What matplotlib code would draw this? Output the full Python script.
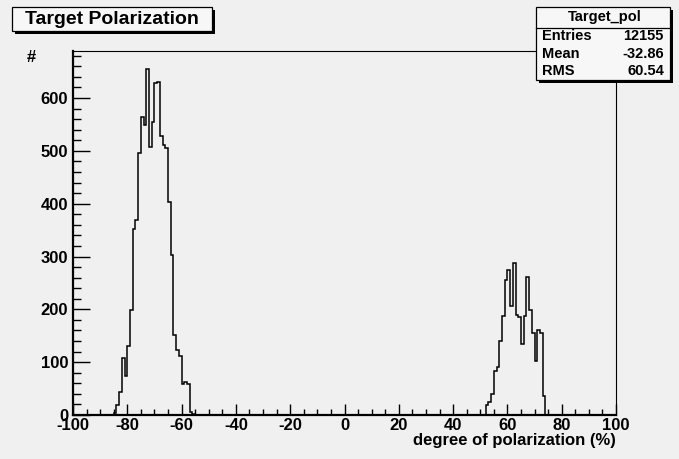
import numpy as np
import matplotlib
matplotlib.use("Agg")
import matplotlib.pyplot as plt
from matplotlib.patches import Rectangle
from matplotlib.ticker import MultipleLocator

# histogram "Target_pol": 200 bins of width 1 from -100 to 100
x_lo, x_hi = -100, 100
left_start = -85
left_counts = [4, 18, 44, 107, 73, 131, 198, 353, 369, 495, 565, 548, 655, 508, 554,
               628, 630, 528, 512, 506, 404, 302, 151, 123, 112, 59, 63, 59, 5, 1]
right_start = 52
right_counts = [18, 25, 39, 83, 91, 141, 187, 256, 275, 207, 287, 190, 185, 135, 187,
                262, 199, 155, 103, 161, 155, 36]

title = "Target Polarization"
stats_name = "Target_pol"
stats_rows = [("Entries", "12155"), ("Mean", "-32.86"), ("RMS", "60.54")]

W, H = 679, 459
bg = "#f0f0f0"
plt.rcParams['font.family'] = ['Liberation Sans', 'DejaVu Sans']
plt.rcParams['font.weight'] = 'bold'
plt.rcParams['axes.unicode_minus'] = False

edges = np.arange(x_lo, x_hi + 1)
counts = np.zeros(len(edges) - 1)
i0 = left_start - x_lo
counts[i0:i0 + len(left_counts)] = left_counts
i1 = right_start - x_lo
counts[i1:i1 + len(right_counts)] = right_counts

fig = plt.figure(figsize=(W / 100, H / 100), dpi=100, facecolor=bg)
# frame in pixels: x 73..616, y 51..415
ax = fig.add_axes([73 / W, 1 - 415 / H, (616 - 73) / W, (415 - 51) / H], facecolor=bg)
ax.stairs(counts, edges, color="black", lw=1.1)
ax.set_xlim(x_lo, x_hi)
ax.set_ylim(0, 689)

for s in ("left", "bottom"):
    ax.spines[s].set_linewidth(1.6)
for s in ("top", "right"):
    ax.spines[s].set_linewidth(0.8)

ax.xaxis.set_major_locator(MultipleLocator(20))
ax.xaxis.set_minor_locator(MultipleLocator(5))
ax.yaxis.set_major_locator(MultipleLocator(100))
ax.yaxis.set_minor_locator(MultipleLocator(20))
ax.tick_params(axis="x", which="major", direction="in", length=7.7, width=1, pad=2, labelsize=12)
ax.tick_params(axis="x", which="minor", direction="in", length=4.1, width=1)
ax.tick_params(axis="y", which="major", direction="in", length=11.9, width=1, pad=3.5, labelsize=12)
ax.tick_params(axis="y", which="minor", direction="in", length=5.8, width=1)
for lab in ax.get_xticklabels() + ax.get_yticklabels():
    lab.set_fontweight("bold")

fig.text(616 / W, 1 - 441 / H, "degree of polarization (%)", ha="right", va="center",
         fontsize=12, fontweight="bold")
fig.text(31 / W, 1 - 57 / H, "#", ha="center", va="center",
         fontsize=12, fontweight="bold")


def box(x0, y0, x1, y1, sh=3):
    # pixel box with ROOT-like drop shadow
    fig.patches.append(Rectangle(((x0 + sh) / W, 1 - (y1 + sh) / H), (x1 - x0) / W, (y1 - y0) / H,
                                 transform=fig.transFigure, facecolor="black", edgecolor="none", zorder=5))
    fig.patches.append(Rectangle((x0 / W, 1 - y1 / H), (x1 - x0) / W, (y1 - y0) / H,
                                 transform=fig.transFigure, facecolor="#f7f7f7", edgecolor="black",
                                 lw=0.9, zorder=6))


box(12, 7, 212, 31)
fig.text(112 / W, 1 - 19.5 / H, title, ha="center", va="center", fontsize=14,
         fontweight="bold", zorder=7)

box(536, 7, 670, 80)
fig.text(605 / W, 1 - 17 / H, stats_name, ha="center", va="center", fontsize=10.5,
         fontweight="bold", zorder=7)
fig.lines.append(plt.Line2D([536 / W, 670 / W], [1 - 27.7 / H, 1 - 27.7 / H],
                            transform=fig.transFigure, color="black", lw=0.9, zorder=7))
for k, (name, val) in enumerate(stats_rows):
    yy = 1 - (36 + 17.7 * k) / H
    fig.text(542 / W, yy, name, ha="left", va="center", fontsize=10.5, fontweight="bold", zorder=7)
    fig.text(664 / W, yy, val, ha="right", va="center", fontsize=10.5, fontweight="bold", zorder=7)

fig.savefig("out.png", dpi=100, facecolor=bg)
